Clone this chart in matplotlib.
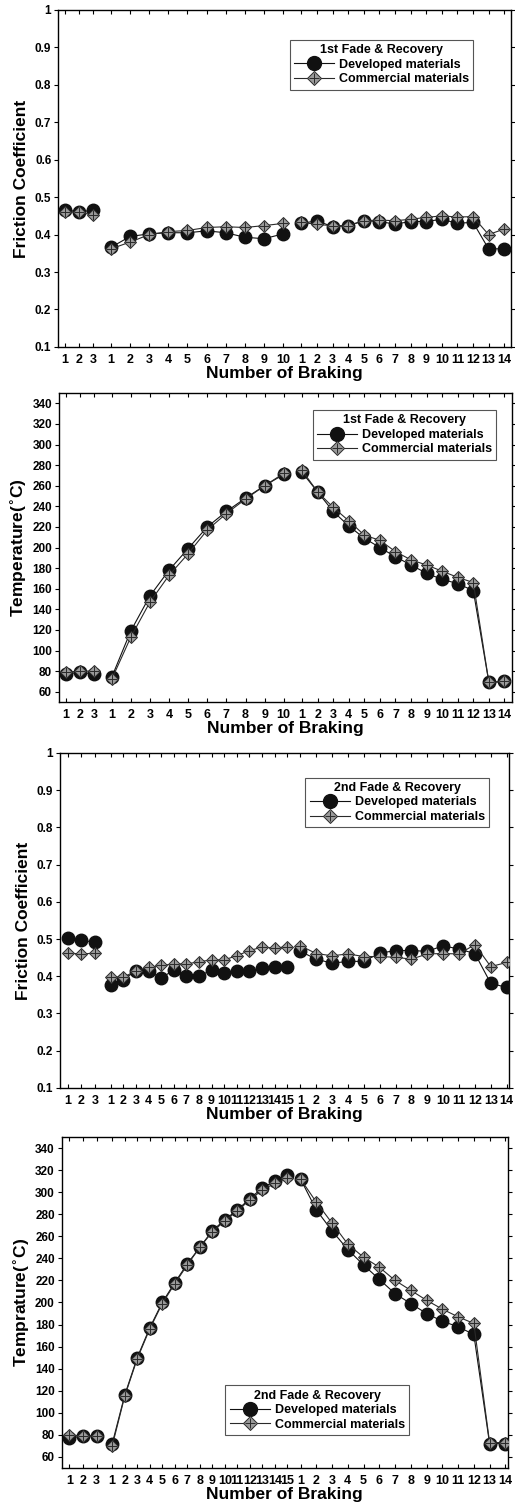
import numpy as np
import matplotlib.pyplot as plt
import matplotlib as mpl
from matplotlib import ticker
from matplotlib.lines import Line2D
from matplotlib.legend_handler import HandlerTuple

BLACK, DARK, GRAY = '#111111', '#2a2a2a', '#9a9a9a'

mpl.rcParams['font.family'] = ['Liberation Sans', 'DejaVu Sans']
mpl.rcParams['font.weight'] = 'bold'
mpl.rcParams['axes.labelweight'] = 'bold'
mpl.rcParams['axes.linewidth'] = 1.0

# number of brakings in each section: baseline / fade / recovery
N_BASE = 3
N_REC = 14
N_FADE1 = 10
N_FADE2 = 15

# 1st fade & recovery, friction coefficient
fc1_dev = [0.466, 0.461, 0.465,
           0.366, 0.395, 0.402, 0.405, 0.405, 0.410, 0.405, 0.393, 0.389, 0.402,
           0.430, 0.437, 0.421, 0.424, 0.437, 0.435, 0.428, 0.435, 0.435, 0.441,
           0.430, 0.433, 0.362, 0.362]
fc1_com = [0.460, 0.460, 0.452,
           0.362, 0.380, 0.400, 0.408, 0.411, 0.419, 0.421, 0.419, 0.424, 0.430,
           0.433, 0.427, 0.424, 0.424, 0.437, 0.439, 0.437, 0.441, 0.446, 0.450,
           0.447, 0.448, 0.400, 0.415]

# 1st fade & recovery, temperature
t1_dev = [77, 79, 77,
          74, 119, 153, 178, 199, 220, 235, 248, 260, 271,
          273, 254, 235, 221, 209, 200, 191, 183, 175, 169, 165, 158, 69, 70]
t1_com = [79, 80, 80,
          72, 113, 147, 173, 194, 217, 233, 247, 260, 272,
          275, 254, 239, 226, 212, 207, 196, 188, 183, 177, 171, 166, 69, 70]

# 2nd fade & recovery, friction coefficient
fc2_dev = [0.503, 0.497, 0.491,
           0.377, 0.391, 0.415, 0.415, 0.395, 0.417, 0.400, 0.400, 0.417, 0.409,
           0.413, 0.413, 0.421, 0.426, 0.424,
           0.467, 0.446, 0.435, 0.440, 0.440, 0.462, 0.469, 0.469, 0.467, 0.482,
           0.473, 0.461, 0.381, 0.370]
fc2_com = [0.462, 0.460, 0.462,
           0.399, 0.397, 0.415, 0.424, 0.429, 0.433, 0.433, 0.439, 0.444, 0.444,
           0.455, 0.469, 0.478, 0.476, 0.479,
           0.482, 0.461, 0.455, 0.460, 0.453, 0.453, 0.451, 0.446, 0.460, 0.461,
           0.460, 0.485, 0.426, 0.437]

# 2nd fade & recovery, temperature
t2_dev = [77, 79, 79,
          72, 116, 150, 177, 200, 218, 235, 250, 265, 275, 284, 294, 304, 310, 316,
          312, 284, 265, 248, 234, 221, 208, 199, 190, 183, 178, 171, 72, 72]
t2_com = [80, 79, 79,
          70, 115, 149, 176, 199, 217, 234, 250, 264, 274, 283, 293, 302, 308, 313,
          312, 291, 272, 253, 241, 232, 220, 211, 202, 194, 187, 181, 73, 73]


def section_x(n_fade, gap_fade, step_fade, gap_rec, step_rec):
    base = np.arange(N_BASE, dtype=float)
    fade = base[-1] + gap_fade + step_fade * np.arange(n_fade)
    rec = fade[-1] + gap_rec + step_rec * np.arange(N_REC)
    return [base, fade, rec]


def split(vals, n_fade):
    vals = np.asarray(vals, dtype=float)
    return [vals[:N_BASE], vals[N_BASE:N_BASE + n_fade], vals[N_BASE + n_fade:]]


def draw_panel(ax, xs, dev, com, n_fade):
    for x, y in zip(xs, split(dev, n_fade)):
        ax.plot(x, y, color=BLACK, lw=0.8, marker='o', ms=9, mfc=BLACK, mec=BLACK, zorder=3)
    for x, y in zip(xs, split(com, n_fade)):
        ax.plot(x, y, color=DARK, lw=0.8, marker='D', ms=6.5, mfc=GRAY, mec=DARK, mew=0.7, zorder=4)
        ax.plot(x, y, ls='none', marker='+', ms=6.5, color=DARK, mew=0.7, zorder=5)

    labels = [str(i) for i in range(1, N_BASE + 1)] + \
             [str(i) for i in range(1, n_fade + 1)] + \
             [str(i) for i in range(1, N_REC + 1)]
    ax.xaxis.set_major_locator(ticker.FixedLocator(np.concatenate(xs)))
    ax.xaxis.set_major_formatter(ticker.FixedFormatter(labels))
    ax.tick_params(axis='x', which='major', direction='in', length=3, width=0.8,
                   labelsize=9, pad=5, top=True)
    ax.tick_params(axis='y', which='major', direction='out', length=3, width=0.8,
                   labelsize=8.5, pad=2)
    ax.tick_params(axis='y', which='major', right=True)
    ax.set_xlabel('Number of Braking', fontsize=12.5, labelpad=0)


def add_legend(ax, title, **kw):
    dev_h = Line2D([], [], color=BLACK, lw=0.8, marker='o', ms=10, mfc=BLACK, mec=BLACK)
    com_d = Line2D([], [], color=DARK, lw=0.8, marker='D', ms=7, mfc=GRAY, mec=DARK, mew=0.7)
    com_p = Line2D([], [], ls='none', marker='+', ms=7, color=DARK, mew=0.7)
    leg = ax.legend([dev_h, (com_d, com_p)], ['Developed materials', 'Commercial materials'],
                    handler_map={tuple: HandlerTuple(ndivide=1, pad=0)},
                    title=title, fontsize=9, title_fontsize=9, handlelength=3.2,
                    handletextpad=0.4, labelspacing=0.2, borderpad=0.35,
                    fancybox=False, framealpha=1, edgecolor='#555555', **kw)
    leg.get_title().set_fontweight('bold')
    leg.get_frame().set_linewidth(0.8)


fig = plt.figure(figsize=(5.15, 15.11), dpi=100)

xs1 = section_x(N_FADE1, 1.25, 1.35, 1.29, 1.10)
xs2 = section_x(N_FADE2, 1.13, 0.913, 0.96, 1.15)

# friction, 1st fade
ax1 = fig.add_axes([0.113, 0.7704, 0.880, 0.2230])
draw_panel(ax1, xs1, fc1_dev, fc1_com, N_FADE1)
ax1.set_xlim(-0.47, 31.5)
ax1.set_ylim(0.1, 1.0)
ax1.yaxis.set_major_locator(ticker.MultipleLocator(0.1))
ax1.yaxis.set_major_formatter(ticker.FuncFormatter(lambda v, p: f'{v:g}'))
ax1.set_ylabel('Friction Coefficient', fontsize=12.5, labelpad=4)
add_legend(ax1, '1st Fade & Recovery', loc='upper right', bbox_to_anchor=(0.93, 0.93))

# temperature, 1st fade
ax2 = fig.add_axes([0.1146, 0.5354, 0.879, 0.2045])
draw_panel(ax2, xs1, t1_dev, t1_com, N_FADE1)
ax2.set_xlim(-0.47, 31.5)
ax2.set_ylim(50, 350)
ax2.set_yticks(np.arange(60, 341, 20))
ax2.set_ylabel('Temperature($^{\\circ}$C)', fontsize=12.5, labelpad=2)
add_legend(ax2, '1st Fade & Recovery', loc='upper right', bbox_to_anchor=(0.98, 0.965))

# friction, 2nd fade
ax3 = fig.add_axes([0.1165, 0.2800, 0.872, 0.2217])
draw_panel(ax3, xs2, fc2_dev, fc2_com, N_FADE2)
ax3.set_xlim(-0.55, 32.0)
ax3.set_ylim(0.1, 1.0)
ax3.yaxis.set_major_locator(ticker.MultipleLocator(0.1))
ax3.yaxis.set_major_formatter(ticker.FuncFormatter(lambda v, p: f'{v:g}'))
ax3.set_ylabel('Friction Coefficient', fontsize=12.5, labelpad=4)
add_legend(ax3, '2nd Fade & Recovery', loc='upper right', bbox_to_anchor=(0.97, 0.945))

# temperature, 2nd fade
ax4 = fig.add_axes([0.120, 0.0285, 0.866, 0.2190])
draw_panel(ax4, xs2, t2_dev, t2_com, N_FADE2)
ax4.set_xlim(-0.55, 32.0)
ax4.set_ylim(50, 350)
ax4.set_yticks(np.arange(60, 341, 20))
ax4.set_ylabel('Temprature($^{\\circ}$C)', fontsize=12.5, labelpad=2)
add_legend(ax4, '2nd Fade & Recovery', loc='lower left', bbox_to_anchor=(0.353, 0.08))

plt.savefig('out.png', dpi=100)
